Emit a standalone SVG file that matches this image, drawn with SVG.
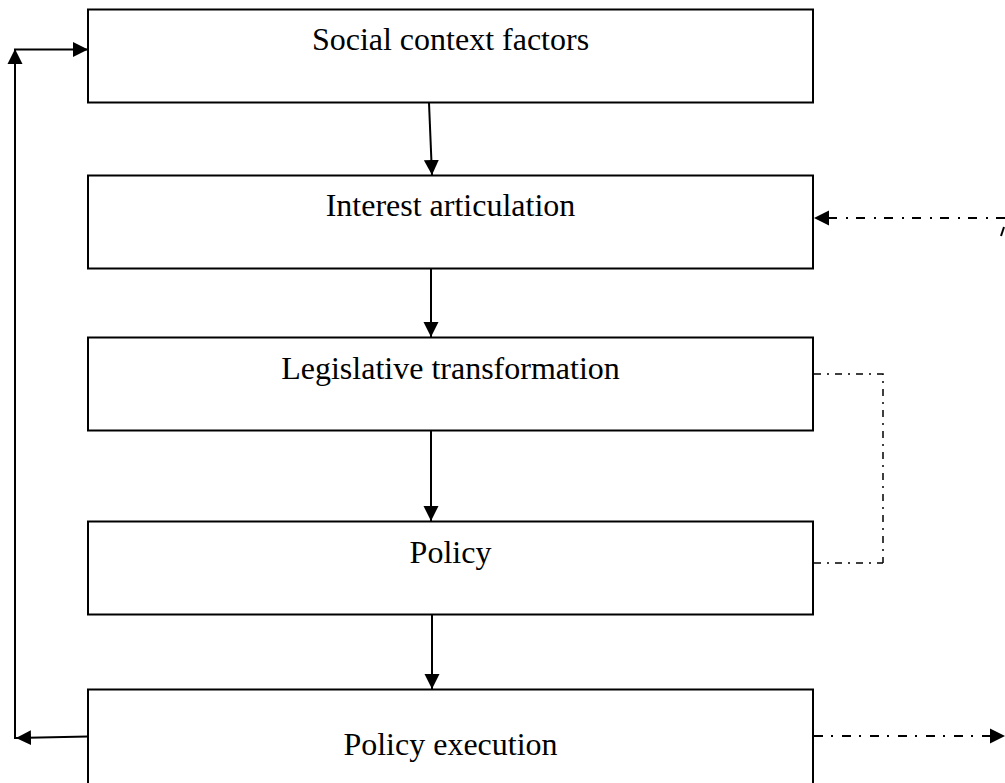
<svg xmlns="http://www.w3.org/2000/svg" width="1005" height="783" viewBox="0 0 1005 783">
<style>
.box{fill:#fff;stroke:#000;stroke-width:2}
.lbl{font-family:"Liberation Serif","Times New Roman",serif;font-size:32px;fill:#000;text-anchor:middle}
.solid{fill:none;stroke:#000;stroke-width:2}
.dd{fill:none;stroke:#000;stroke-width:2;stroke-dasharray:9 8 2 9}
.dd2{fill:none;stroke:#000;stroke-width:1.5;stroke-dasharray:7 6 2 6}
</style>
<defs>
<marker id="ah" markerUnits="userSpaceOnUse" markerWidth="16" markerHeight="16" refX="15" refY="7.5" orient="auto" viewBox="0 0 16 15">
<path d="M0,0 L15,7.5 L0,15 z" fill="#000"/>
</marker>
</defs>
<rect width="1005" height="783" fill="#fff"/>
<g id="node-social">
<rect class="box" x="88" y="9.5" width="725" height="93"/>
<text class="lbl" x="450.5" y="50">Social context factors</text>
</g>
<g id="node-interest">
<rect class="box" x="88" y="175.5" width="725" height="93"/>
<text class="lbl" x="450.5" y="216">Interest articulation</text>
</g>
<g id="node-legislative">
<rect class="box" x="88" y="337.5" width="725" height="93"/>
<text class="lbl" x="450.5" y="379">Legislative transformation</text>
</g>
<g id="node-policy">
<rect class="box" x="88" y="521.5" width="725" height="93"/>
<text class="lbl" x="450.5" y="563">Policy</text>
</g>
<g id="node-execution">
<rect class="box" x="88" y="689.5" width="725" height="120"/>
<text class="lbl" x="450.5" y="755">Policy execution</text>
</g>
<g id="connectors">
<line class="solid" x1="429" y1="103" x2="432" y2="175" marker-end="url(#ah)"/>
<line class="solid" x1="431" y1="269" x2="431" y2="337" marker-end="url(#ah)"/>
<line class="solid" x1="431" y1="431" x2="431" y2="521" marker-end="url(#ah)"/>
<line class="solid" x1="432" y1="615" x2="432" y2="689" marker-end="url(#ah)"/>
<line class="solid" x1="88" y1="736.5" x2="16" y2="738" marker-end="url(#ah)"/>
<line class="solid" x1="15" y1="739" x2="15" y2="49" marker-end="url(#ah)"/>
<line class="solid" x1="14" y1="49.5" x2="88" y2="49.5" marker-end="url(#ah)"/>
<line class="dd" x1="1005" y1="218" x2="814" y2="218" marker-end="url(#ah)"/>
<line class="solid" x1="1001" y1="236" x2="1004" y2="227" stroke-width="1.5"/>
<polyline class="dd2" points="814,374 883,374 883,563"/>
<line class="dd2" x1="814" y1="563" x2="883" y2="563"/>
<line class="dd" x1="814" y1="736" x2="1005" y2="736" marker-end="url(#ah)"/>
</g>
</svg>
